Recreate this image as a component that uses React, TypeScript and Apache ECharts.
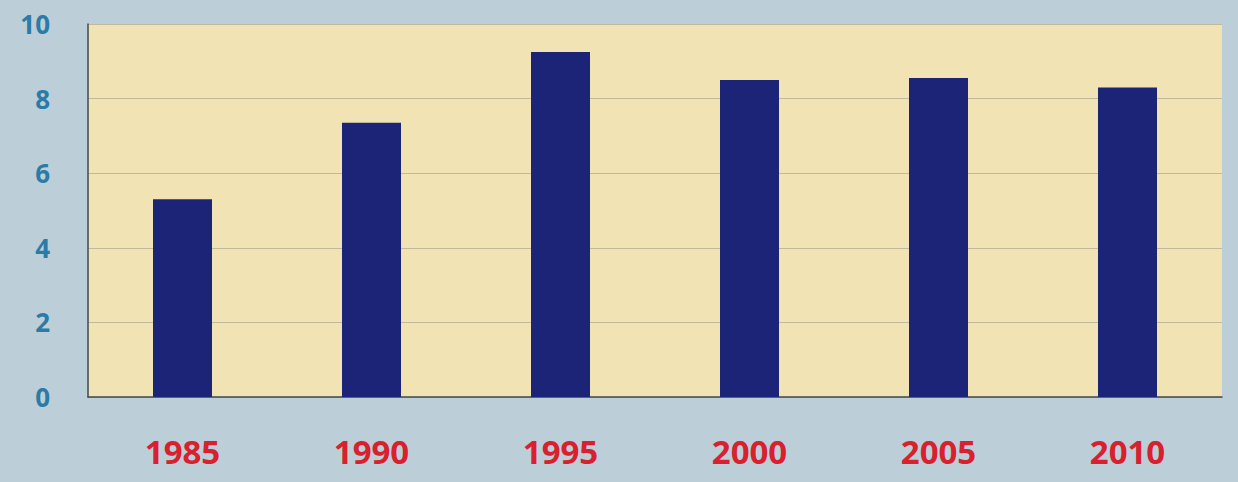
import React, { useEffect, useRef } from "react";
import * as echarts from "echarts";

const categories = ["1985", "1990", "1995", "2000", "2005", "2010"];
const values = [5.3, 7.35, 9.25, 8.5, 8.55, 8.3];
const yTicks = { min: 0, max: 10, interval: 2 };

export default function App() {
  const ref = useRef<HTMLDivElement>(null);
  useEffect(() => {
    if (!ref.current) return;
    const chart = echarts.init(ref.current, undefined, { renderer: "svg" });
    chart.setOption({
      animation: false,
      backgroundColor: "#bccfd8",
      grid: {
        left: 88,
        right: 16,
        top: 24,
        bottom: 85,
        show: true,
        backgroundColor: "#f1e3b4",
        borderWidth: 0,
      },
      xAxis: {
        type: "category",
        data: categories,
        axisLine: { show: true, lineStyle: { color: "#3d4a4c", width: 1.5 } },
        axisTick: { show: false },
        axisLabel: {
          color: "#d8202e",
          fontSize: 33,
          fontWeight: "bold",
          fontFamily: "Open Sans",
          margin: 38,
        },
      },
      yAxis: {
        type: "value",
        min: yTicks.min,
        max: yTicks.max,
        interval: yTicks.interval,
        axisLine: { show: true, lineStyle: { color: "#3d4a4c", width: 1.5 } },
        axisTick: { show: false },
        axisLabel: {
          color: "#2b7ba6",
          fontSize: 26,
          fontWeight: "bold",
          fontFamily: "Open Sans",
          margin: 38,
        },
        splitLine: { show: true, lineStyle: { color: "#c2b99c", width: 1 } },
      },
      series: [
        {
          type: "bar",
          data: values,
          barWidth: 59,
          itemStyle: { color: "#1c2478" },
        },
      ],
    });
    return () => chart.dispose();
  }, []);
  return (
    <div
      ref={ref}
      style={{ position: "absolute", left: 0, top: 0, width: 1238, height: 482 }}
    />
  );
}
